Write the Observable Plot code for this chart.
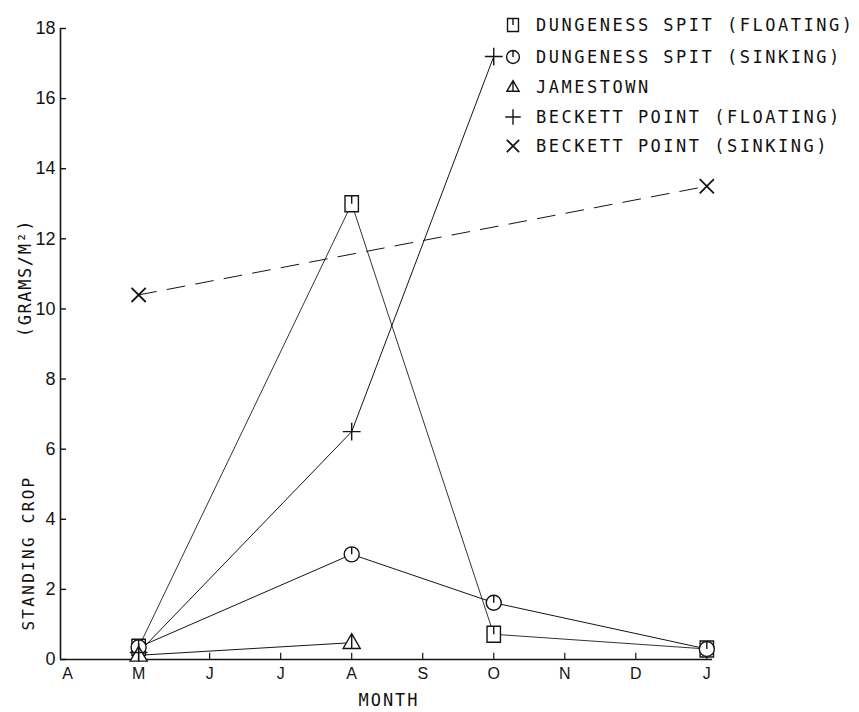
<!DOCTYPE html>
<html><head><meta charset="utf-8">
<script src="https://cdn.jsdelivr.net/npm/d3@7"></script>
<script src="https://cdn.jsdelivr.net/npm/@observablehq/plot@0.6"></script>
<style>
body{margin:0;background:#fff;}
#wrap{position:relative;width:859px;height:712px;overflow:hidden;background:#fff;}
.lab{position:absolute;font-family:"DejaVu Sans Mono",monospace;color:#111;white-space:nowrap;}
.leg{position:absolute;left:503px;font-family:"DejaVu Sans Mono",monospace;font-size:17px;letter-spacing:2.5px;color:#111;white-space:nowrap;display:flex;align-items:center;height:24px;transform:translateY(-50%);}
.leg svg{margin-right:13px;overflow:visible;}
</style></head><body><div id="wrap"></div>
<script>
// ---- data ----
const months = ["A", "M", "J", "J", "A", "S", "O", "N", "D", "J"];
const yTicks = [0, 2, 4, 6, 8, 10, 12, 14, 16, 18];
const seriesNames = ["DUNGENESS SPIT (FLOATING)", "DUNGENESS SPIT (SINKING)", "JAMESTOWN", "BECKETT POINT (FLOATING)", "BECKETT POINT (SINKING)"];
const dsFloatMonth = [1, 4, 6, 9];
const dsFloatValue = [0.35, 13.0, 0.72, 0.3];
const dsSinkMonth = [1, 4, 6, 9];
const dsSinkValue = [0.35, 3.0, 1.62, 0.3];
const jamMonth = [1, 4];
const jamValue = [0.12, 0.48];
const bpFloatMonth = [1, 4, 6];
const bpFloatValue = [0.2, 6.5, 17.2];
const bpSinkMonth = [1, 9];
const bpSinkValue = [10.4, 13.5];

// ---- custom symbols ----
const sqTick = {draw(ctx, size) {
  const s = Math.sqrt(size), w = s * 0.42, h = s * 0.5;
  ctx.moveTo(-w, -h); ctx.lineTo(w, -h); ctx.lineTo(w, h); ctx.lineTo(-w, h); ctx.closePath();
  ctx.moveTo(0, -h); ctx.lineTo(0, 0);
}};
const circTick = {draw(ctx, size) {
  const r = Math.sqrt(size / Math.PI);
  ctx.moveTo(r, 0); ctx.arc(0, 0, r, 0, 2 * Math.PI);
  ctx.moveTo(0, -r); ctx.lineTo(0, 0);
}};
const triTick = {draw(ctx, size) {
  const r = Math.sqrt(size / Math.PI);
  ctx.moveTo(0, -r); ctx.lineTo(r * 0.95, r * 0.65); ctx.lineTo(-r * 0.95, r * 0.65); ctx.closePath();
  ctx.moveTo(0, -r); ctx.lineTo(0, r * 0.65);
}};
const symbols = [sqTick, circTick, triTick, d3.symbolPlus, d3.symbolTimes];

const mk = (m, v) => m.map((d, i) => ({month: d, value: v[i]}));
const dsF = mk(dsFloatMonth, dsFloatValue);
const dsS = mk(dsSinkMonth, dsSinkValue);
const jam = mk(jamMonth, jamValue);
const bpF = mk(bpFloatMonth, bpFloatValue);
const bpS = mk(bpSinkMonth, bpSinkValue);

const ink = "#151515";
const lineOpt = {x: "month", y: "value", stroke: ink, strokeWidth: 1};
const dotOpt = (sym, r) => ({x: "month", y: "value", symbol: () => sym, r, stroke: ink, strokeWidth: 1.4, fill: "white"});

const x0 = -0.1;
const chart = Plot.plot({
  width: 859, height: 712,
  marginLeft: 60, marginRight: 147, marginTop: 28, marginBottom: 53,
  x: {domain: [x0, 9.08], nice: false},
  y: {domain: [0, 18], nice: false},
  symbol: {type: "identity"},
  marks: [
    Plot.ruleX([x0], {stroke: ink, strokeWidth: 1.6}),
    Plot.ruleY([0], {stroke: ink, strokeWidth: 1.6}),
    Plot.ruleY(yTicks, {y: d => d, x1: x0, x2: x0 + 0.085, stroke: ink, strokeWidth: 1.4}),
    Plot.ruleX(d3.range(1, months.length), {x: d => d, y1: 0, y2: 0.18, stroke: ink, strokeWidth: 1.2}),
    Plot.axisY({ticks: yTicks, tickSize: 0, tickPadding: 5, label: null, fontSize: 18, fontFamily: "Liberation Sans, Arial, sans-serif", fill: ink}),
    Plot.axisX({ticks: d3.range(months.length), tickFormat: i => months[i], tickSize: 0, tickPadding: 8, label: null, fontSize: 16, fontFamily: "Liberation Sans Narrow, Liberation Sans, sans-serif", fill: ink}),
    Plot.line(dsF, {...lineOpt, stroke: "#333"}),
    Plot.line(dsS, lineOpt),
    Plot.line(jam, lineOpt),
    Plot.line(bpF, lineOpt),
    Plot.line(bpS, {...lineOpt, strokeDasharray: "18,11"}),
    Plot.dot(dsF, dotOpt(sqTick, 9)),
    Plot.dot(dsS, dotOpt(circTick, 7.5)),
    Plot.dot(jam, dotOpt(triTick, 9)),
    Plot.dot(bpF, {...dotOpt(d3.symbolPlus, 5.8), fill: "none"}),
    Plot.dot(bpS, {...dotOpt(d3.symbolTimes, 6.5), fill: "none", strokeWidth: 1.8})
  ]
});
const wrap = document.getElementById("wrap");
wrap.appendChild(chart);

// axis titles
function addLabel(text, cx, cy, size, rot, ls) {
  const d = document.createElement("div");
  d.className = "lab";
  d.textContent = text;
  d.style.left = cx + "px"; d.style.top = cy + "px";
  d.style.fontSize = size + "px";
  d.style.letterSpacing = ls + "px";
  d.style.transform = `translate(-50%,-50%) rotate(${rot}deg)`;
  wrap.appendChild(d);
}
addLabel("MONTH", 389, 700, 17, 0, 2);
addLabel("STANDING CROP", 28, 553, 16, -90, 2.3);
addLabel("(GRAMS/M²)", 25, 278, 17, -90, 1.6);

// legend
const legRows = [25, 57, 87, 117, 146];
const legSize = [170, 130, 130, 80, 100];
seriesNames.forEach((name, i) => {
  const row = document.createElement("div");
  row.className = "leg";
  row.style.top = legRows[i] + "px";
  const svg = d3.create("svg").attr("width", 20).attr("height", 20);
  svg.append("path")
    .attr("transform", "translate(10,10)")
    .attr("d", d3.symbol(symbols[i], legSize[i])())
    .attr("fill", i < 3 ? "white" : "none")
    .attr("stroke", ink)
    .attr("stroke-width", i === 4 ? 1.8 : 1.4);
  row.appendChild(svg.node());
  const t = document.createElement("span");
  t.textContent = name;
  row.appendChild(t);
  wrap.appendChild(row);
});
</script>
</body></html>
